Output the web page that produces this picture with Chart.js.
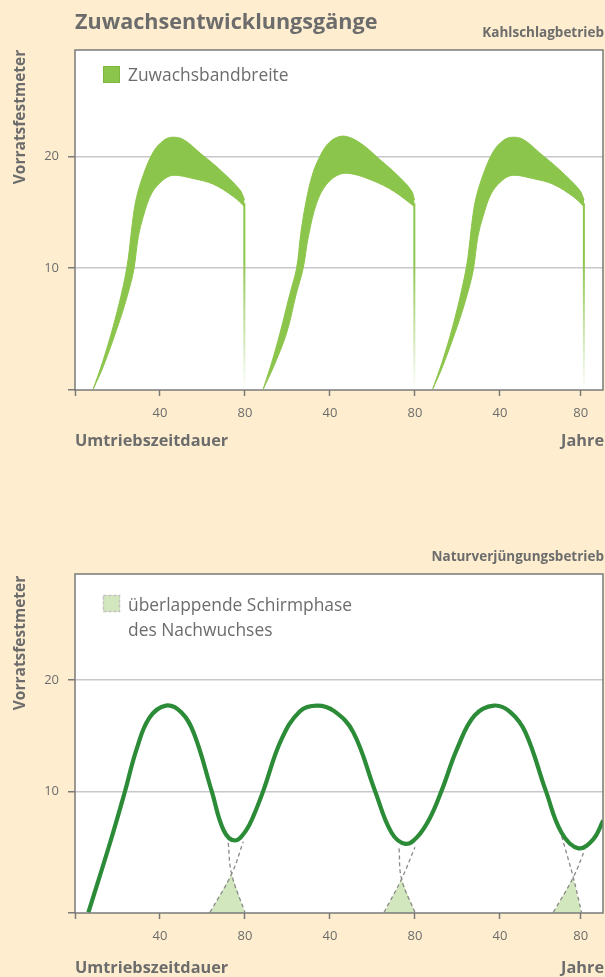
<!DOCTYPE html>
<html>
<head>
<meta charset="utf-8">
<script src="https://cdn.jsdelivr.net/npm/chart.js@4.4.1/dist/chart.umd.min.js"></script>
<style>
  html, body { margin: 0; padding: 0; background: #feeecf; }
  canvas { display: block; }
</style>
</head>
<body>
<canvas id="kahlschlag" width="605" height="488"></canvas>
<canvas id="naturverjuengung" width="605" height="489"></canvas>
<script>
// Achsen
const xTickJahre = [0, 40, 80, 120, 160, 200, 238];
const xTickBeschriftung = ['', '40', '80', '40', '80', '40', '80'];
const yTickWerte = [-0.9, 10, 20];
const yTickBeschriftung = ['', '10', '20'];

// Kahlschlagbetrieb: Zuwachsband, obere und untere Kante [Jahr, Vfm]
const bandOben1 = [[8.6,-0.8],[13,1.6],[18,4.8],[22.7,8.4],[25.1,10.9],[26.6,13.4],[28.6,16.0],[32.1,18.3],[36.9,20.4],[41.6,21.4],[45.5,21.7],[51,21.5],[58.8,20.3],[68.2,18.8],[77.6,17.0],[79.8,16.1]];
const bandUnten1 = [[8.6,-0.8],[13.3,1.2],[21.2,5.4],[25.9,8.4],[27.8,10.0],[29.8,12.8],[32.1,14.6],[36.1,16.7],[41.6,17.9],[46.3,18.3],[55.7,18.0],[65.1,17.5],[74.5,16.4],[79.8,15.5]];
const bandOben2 = [[88.6,-0.8],[92.5,1.5],[96.5,4.2],[101,7.6],[104.3,10.0],[106.2,13.0],[108.4,15.6],[111.5,18.2],[115.3,20.0],[120,21.3],[126.3,21.8],[134.1,21.2],[143.5,19.7],[152.9,18.1],[158.4,16.9],[159.8,16.1]];
const bandUnten2 = [[88.6,-0.8],[93.5,1.2],[99.6,4.2],[104,7.6],[107.4,10.0],[109.8,12.8],[113.7,15.8],[118.4,17.5],[124.7,18.4],[131,18.4],[140.4,17.8],[149.8,16.9],[159.8,15.5]];
const bandOben3 = [[168.4,-0.8],[172.8,1.6],[177.8,4.8],[182.4,8.4],[184.9,10.9],[186.4,13.4],[188.4,16.0],[192,18.3],[196.8,20.4],[201.5,21.4],[205.5,21.7],[211,21.5],[218.7,20.3],[228,18.8],[237.4,17.0],[239.6,16.1]];
const bandUnten3 = [[168.4,-0.8],[173,1.2],[181,5.4],[185.7,8.4],[187.6,10.0],[189.6,12.8],[192,14.6],[196,16.7],[201.4,17.9],[206.2,18.3],[215.6,18.0],[225,17.5],[234.4,16.4],[239.6,15.5]];
// Kahlschlag (senkrechter Abfall am Ende der Umtriebszeit)
const abfallJahre = [79.7, 159.7, 239.5];
const abfallVon = [15.8, 15.8, 15.8];

// Naturverjüngungsbetrieb: Vorrat
const vorratJahre = [6.3,16.5,23.5,29,35,42.8,50,56,64.3,70,75.3,80.5,84.2,88.6,97,105.9,114,122,131,141.2,149,155.6,161,167,172.5,180,188,197.2,205,212,221.6,229,237,243.9,248.6];
const vorratVfm = [-0.85,5.4,10.0,13.8,16.6,17.7,17.1,15.2,10.05,6.5,5.6,6.5,7.9,10.05,14.6,17.2,17.7,17.2,15.3,10.05,6.3,5.3,5.9,7.6,10.05,13.9,16.8,17.7,17.1,15.3,10.05,6.3,4.9,5.7,7.4];
// auslaufender Altbestand und aufwachsender Nachwuchs (gestrichelt)
const altbestand = [
  [[72.1,5.4],[73.7,2.6],[80,-0.85]],
  [[152.5,4.9],[153.7,2.15],[160,-0.85]],
  [[229,6.0],[234.5,2.3],[238.4,-0.85]]
];
const nachwuchs = [
  [[63.5,-0.85],[73.7,2.6],[79.2,5.5]],
  [[145.4,-0.85],[153.7,2.15],[160,5.0]],
  [[225.1,-0.85],[234.5,2.3],[240,4.8]]
];
// überlappende Schirmphase
const schirmphase = [
  [[63.5,-0.9],[73.7,2.6],[80,-0.9]],
  [[145.4,-0.9],[153.7,2.15],[160,-0.9]],
  [[225.1,-0.9],[234.5,2.3],[238.4,-0.9]]
];

const grau = '#6c6c6c';
const rahmenGrau = '#7a7a7a';
const gitterGrau = '#c8c8cc';
const bandGruen = '#8cc54b';
const linieGruen = '#2b8b37';
const schirmGruen = '#d2e7bd';
const schrift = '"Open Sans", "Noto Sans", sans-serif';

function punkte(paare) {
  return paare.map(p => ({ x: p[0], y: p[1] }));
}

function achsen(xHoehe) {
  return {
    x: {
      type: 'linear', min: 0, max: 248.5,
      afterBuildTicks: s => { s.ticks = xTickJahre.map(v => ({ value: v })); },
      afterFit: s => { s.height = xHoehe; },
      ticks: {
        callback: (v, i) => xTickBeschriftung[i],
        color: grau, font: { family: schrift, size: 13 }, padding: 9,
        maxRotation: 0, autoSkip: false
      },
      grid: { drawOnChartArea: false, tickLength: 6, tickColor: rahmenGrau, tickWidth: 1.5 },
      border: { display: false }
    },
    y: {
      type: 'linear', min: -0.9, max: 29.5,
      afterBuildTicks: s => { s.ticks = yTickWerte.map(v => ({ value: v })); },
      afterFit: s => { s.width = 75; },
      ticks: {
        callback: (v, i) => yTickBeschriftung[i],
        color: grau, font: { family: schrift, size: 13 }, padding: 9
      },
      grid: {
        color: c => (c.tick && c.tick.value > 0) ? gitterGrau : 'rgba(0,0,0,0)',
        lineWidth: 1.5, tickLength: 7, tickColor: rahmenGrau, tickWidth: 1.5
      },
      border: { display: false }
    }
  };
}

function rahmenPlugin(texte) {
  return {
    id: 'rahmen',
    beforeDraw(chart) {
      const { ctx, chartArea: a } = chart;
      ctx.save();
      ctx.fillStyle = '#ffffff';
      ctx.fillRect(a.left, a.top, a.right - a.left, a.bottom - a.top);
      ctx.restore();
    },
    afterDraw(chart) {
      const { ctx, chartArea: a } = chart;
      ctx.save();
      ctx.strokeStyle = rahmenGrau;
      ctx.lineWidth = 1.5;
      ctx.strokeRect(a.left, a.top, a.right - a.left, a.bottom - a.top);
      ctx.fillStyle = grau;
      texte.forEach(t => {
        ctx.save();
        ctx.font = t.font;
        ctx.textAlign = t.align || 'left';
        ctx.textBaseline = 'alphabetic';
        ctx.translate(t.x, t.y);
        if (t.drehen) ctx.rotate(-Math.PI / 2);
        ctx.fillText(t.text, 0, 0);
        ctx.restore();
      });
      ctx.restore();
    }
  };
}

// --- Kahlschlagbetrieb ---
const datasets1 = [];
[[bandOben1, bandUnten1], [bandOben2, bandUnten2], [bandOben3, bandUnten3]].forEach(([oben, unten]) => {
  datasets1.push({
    data: punkte(oben), fill: '+1', backgroundColor: bandGruen,
    borderColor: bandGruen, borderWidth: 1, pointRadius: 0, tension: 0.35
  });
  datasets1.push({
    data: punkte(unten), fill: false,
    borderColor: bandGruen, borderWidth: 1, pointRadius: 0, tension: 0.35
  });
});
abfallJahre.forEach((j, i) => {
  datasets1.push({
    data: [{ x: j, y: abfallVon[i] }, { x: j, y: -0.9 }],
    fill: false, borderWidth: 2, pointRadius: 0,
    borderColor: c => {
      const a = c.chart.chartArea;
      if (!a) return bandGruen;
      const g = c.chart.ctx.createLinearGradient(0, a.top, 0, a.bottom);
      g.addColorStop(0, bandGruen);
      g.addColorStop(0.62, bandGruen);
      g.addColorStop(1, 'rgba(140,197,75,0)');
      return g;
    }
  });
});

const legende1 = {
  id: 'legende1',
  afterDraw(chart) {
    const ctx = chart.ctx;
    ctx.save();
    ctx.fillStyle = bandGruen;
    ctx.fillRect(103, 66, 17, 17);
    ctx.strokeStyle = '#7fb640';
    ctx.lineWidth = 1;
    ctx.strokeRect(103.5, 66.5, 16, 16);
    ctx.fillStyle = grau;
    ctx.font = '17.4px ' + schrift;
    ctx.fillText('Zuwachsbandbreite', 128, 81);
    ctx.restore();
  }
};

new Chart(document.getElementById('kahlschlag'), {
  type: 'line',
  data: { datasets: datasets1 },
  options: {
    responsive: false,
    animation: false,
    layout: { padding: { top: 50, right: 2, left: 0, bottom: 0 } },
    plugins: { legend: { display: false }, tooltip: { enabled: false } },
    scales: achsen(98)
  },
  plugins: [rahmenPlugin([
    { text: 'Zuwachsentwicklungsgänge', x: 75, y: 29, font: 'bold 21.6px ' + schrift },
    { text: 'Kahlschlagbetrieb', x: 604, y: 37, align: 'right', font: 'bold 13.5px ' + schrift },
    { text: 'Vorratsfestmeter', x: 24.5, y: 117, align: 'center', drehen: true, font: 'bold 15.5px ' + schrift },
    { text: 'Umtriebszeitdauer', x: 75, y: 446, font: 'bold 16.3px ' + schrift },
    { text: 'Jahre', x: 604, y: 446, align: 'right', font: 'bold 16.3px ' + schrift }
  ]), legende1]
});

// --- Naturverjüngungsbetrieb ---
const datasets2 = [{
  data: vorratJahre.map((j, i) => ({ x: j, y: vorratVfm[i] })),
  fill: false, borderColor: linieGruen, borderWidth: 4.2, pointRadius: 0,
  tension: 0.4, order: 0
}];
altbestand.concat(nachwuchs).forEach(l => {
  datasets2.push({
    data: punkte(l), fill: false, borderColor: '#8a8a8a', borderWidth: 1.3,
    borderDash: [4, 3], pointRadius: 0, tension: 0.4, order: 1
  });
});
schirmphase.forEach(d => {
  datasets2.push({
    data: punkte(d), fill: 'start', backgroundColor: schirmGruen,
    borderWidth: 0, pointRadius: 0, order: 2
  });
});

const legende2 = {
  id: 'legende2',
  afterDraw(chart) {
    const ctx = chart.ctx;
    ctx.save();
    ctx.fillStyle = schirmGruen;
    ctx.fillRect(103, 107, 17, 17);
    ctx.strokeStyle = '#c2c2c2';
    ctx.lineWidth = 1.5;
    ctx.setLineDash([3, 2]);
    ctx.strokeRect(103.5, 107.5, 16, 16);
    ctx.setLineDash([]);
    ctx.fillStyle = grau;
    ctx.font = '17.4px ' + schrift;
    ctx.fillText('überlappende Schirmphase', 128, 123);
    ctx.fillText('des Nachwuchses', 128, 148);
    ctx.restore();
  }
};

new Chart(document.getElementById('naturverjuengung'), {
  type: 'line',
  data: { datasets: datasets2 },
  options: {
    responsive: false,
    animation: false,
    layout: { padding: { top: 86, right: 2, left: 0, bottom: 0 } },
    plugins: { legend: { display: false }, tooltip: { enabled: false } },
    scales: achsen(64)
  },
  plugins: [rahmenPlugin([
    { text: 'Naturverjüngungsbetrieb', x: 604, y: 73, align: 'right', font: 'bold 13.5px ' + schrift },
    { text: 'Vorratsfestmeter', x: 24.5, y: 155, align: 'center', drehen: true, font: 'bold 15.5px ' + schrift },
    { text: 'Umtriebszeitdauer', x: 75, y: 485, font: 'bold 16.3px ' + schrift },
    { text: 'Jahre', x: 604, y: 485, align: 'right', font: 'bold 16.3px ' + schrift }
  ]), legende2]
});
</script>
</body>
</html>
